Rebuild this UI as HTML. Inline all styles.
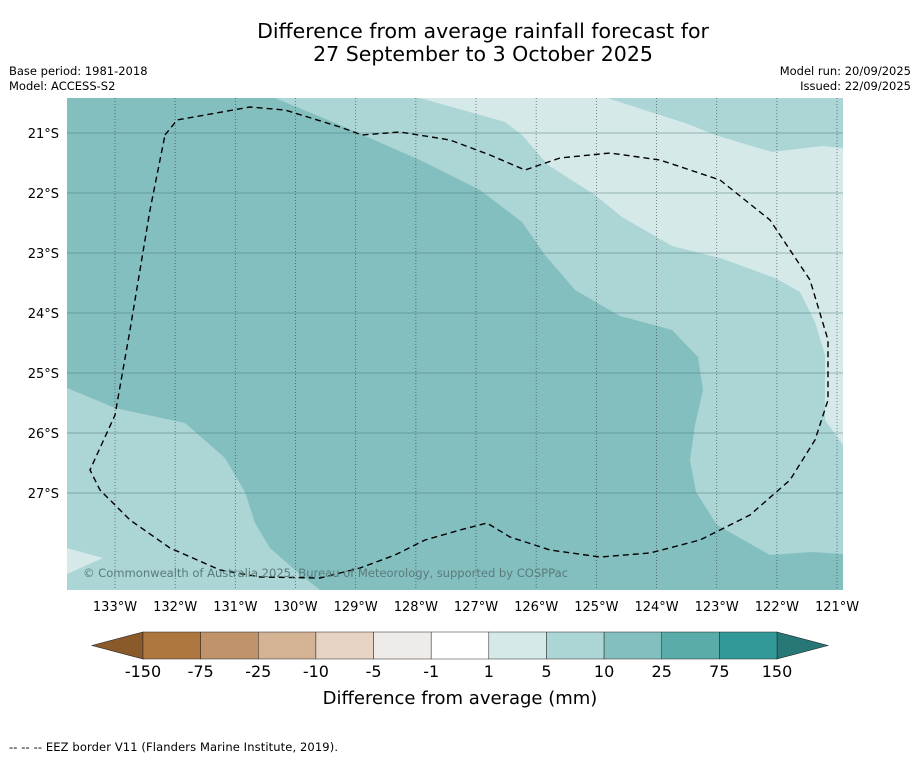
<!DOCTYPE html>
<html><head><meta charset="utf-8"><style>
body{margin:0;background:#fff;font-family:"Liberation Sans","DejaVu Sans",sans-serif;}
svg text{font-family:"DejaVu Sans","Liberation Sans",sans-serif;}
</style></head><body>
<svg id="c" width="919" height="758" xmlns="http://www.w3.org/2000/svg">
<text x="483" y="38" font-size="20.5" text-anchor="middle">Difference from average rainfall forecast for</text>
<text x="483" y="61" font-size="20.5" text-anchor="middle">27 September to 3 October 2025</text>
<text x="9" y="75" font-size="11.5">Base period: 1981-2018</text>
<text x="9" y="90" font-size="11.5">Model: ACCESS-S2</text>
<text x="911" y="75" font-size="11.5" text-anchor="end">Model run: 20/09/2025</text>
<text x="911" y="90" font-size="11.5" text-anchor="end">Issued: 22/09/2025</text>
<g>
<rect x="67" y="98" width="776" height="492" fill="#84bfbf"/>
<polygon fill="#acd5d5" points="275,98 340,125 420,160 480,190 522,222 545,255 575,290 620,316 672,330 698,357 703,390 695,425 690,460 696,492 717,525 770,555 812,552 843,554 843,98"/>
<polygon fill="#d5e9e9" points="420,98 505,122 522,135 548,165 595,195 622,217 672,246 720,258 775,278 800,292 815,322 825,355 825,420 843,445 843,148 822,146 772,152 715,135 688,124 607,98"/>
<polygon fill="#acd5d5" points="67,388 115,408 185,423 225,458 245,492 255,523 270,548 295,570 320,590 67,590"/>
<polygon fill="#d5e9e9" points="67,548 103,558 67,574"/>
<g id="grid"></g>
<polyline fill="none" stroke="#000" stroke-width="1.4" stroke-dasharray="6,4" points="165,135 177,120 250,107 285,110 340,127 362,135 400,132 450,140 490,155 525,170 560,158 610,153 660,160 720,180 770,220 810,280 828,340 828,400 815,440 790,480 750,515 700,540 650,553 600,557 550,550 510,537 487,523 460,530 425,540 395,555 360,568 320,578 260,577 220,570 170,548 130,520 100,490 90,470 115,415 130,330 150,210 165,135"/>
<text x="83" y="577" font-size="11.6" fill="#5a7b7b" textLength="485">© Commonwealth of Australia 2025, Bureau of Meteorology, supported by COSPPac</text>
</g>
<g id="cbar"></g>
<text x="460" y="704" font-size="18" text-anchor="middle">Difference from average (mm)</text>
<text x="9" y="751" font-size="11.5" textLength="329">--  --  -- EEZ border V11 (Flanders Marine Institute, 2019).</text>
</svg>
<script>
const lonTicks=[133,132,131,130,129,128,127,126,125,124,123,122,121];
const latTicks=[21,22,23,24,25,26,27];
const levels=["-150","-75","-25","-10","-5","-1","1","5","10","25","75","150"];
const levelColors=["#ad773f","#c0936a","#d4b394","#e6d3c3","#efebe8","#ffffff","#d5e9e9","#acd5d5","#84bfbf","#5aacab","#339998"];
const NS="http://www.w3.org/2000/svg";
const svg=document.getElementById('c');
const X=lon=>115+(133-lon)*60.17;
const Y=lat=>133+(lat-21)*60;
function mk(t,a,p){const e=document.createElementNS(NS,t);for(const k in a)e.setAttribute(k,a[k]);(p||svg).appendChild(e);return e;}
const g=document.getElementById('grid');
lonTicks.forEach(l=>{
 const ln=mk('line',{x1:X(l),x2:X(l),y1:98,y2:590,stroke:'#333',"stroke-width":0.8,"stroke-dasharray":"1,2","stroke-opacity":0.7},g);
 
 
 const t=mk('text',{x:X(l),y:611,"font-size":13,"text-anchor":"middle"});
 t.textContent=l+"°W";
 
 
});
latTicks.forEach(l=>{
 const ln=mk('line',{x1:67,x2:843,y1:Y(l),y2:Y(l),stroke:'#3f6f6f',"stroke-width":0.8,"stroke-opacity":0.6},g);
 
 
 const t=mk('text',{x:59,y:Y(l)+5,"font-size":13,"text-anchor":"end"});
 t.textContent=l+"°S";
 
 
});
const cb=document.getElementById('cbar');
const x0=143,x1=777,y0=632,y1=659,w=(x1-x0)/levelColors.length;
const lt=mk('polygon',{points:`${x0},${y0} 92,${(y0+y1)/2} ${x0},${y1}`,fill:"#8b5a2b",stroke:"#222","stroke-width":0.6},cb);


const rt=mk('polygon',{points:`${x1},${y0} 828,${(y0+y1)/2} ${x1},${y1}`,fill:"#267776",stroke:"#222","stroke-width":0.6},cb);


levelColors.forEach((c,i)=>{
 const r=mk('rect',{x:x0+i*w,y:y0,width:w,height:y1-y0,fill:c,stroke:"#222","stroke-width":0.5},cb);
 
 
});
levels.forEach((v,i)=>{
 const t=mk('text',{x:x0+i*w,y:677,"font-size":16,"text-anchor":"middle"},cb);
 t.textContent=v;
 
 
});
</script>
</body></html>
